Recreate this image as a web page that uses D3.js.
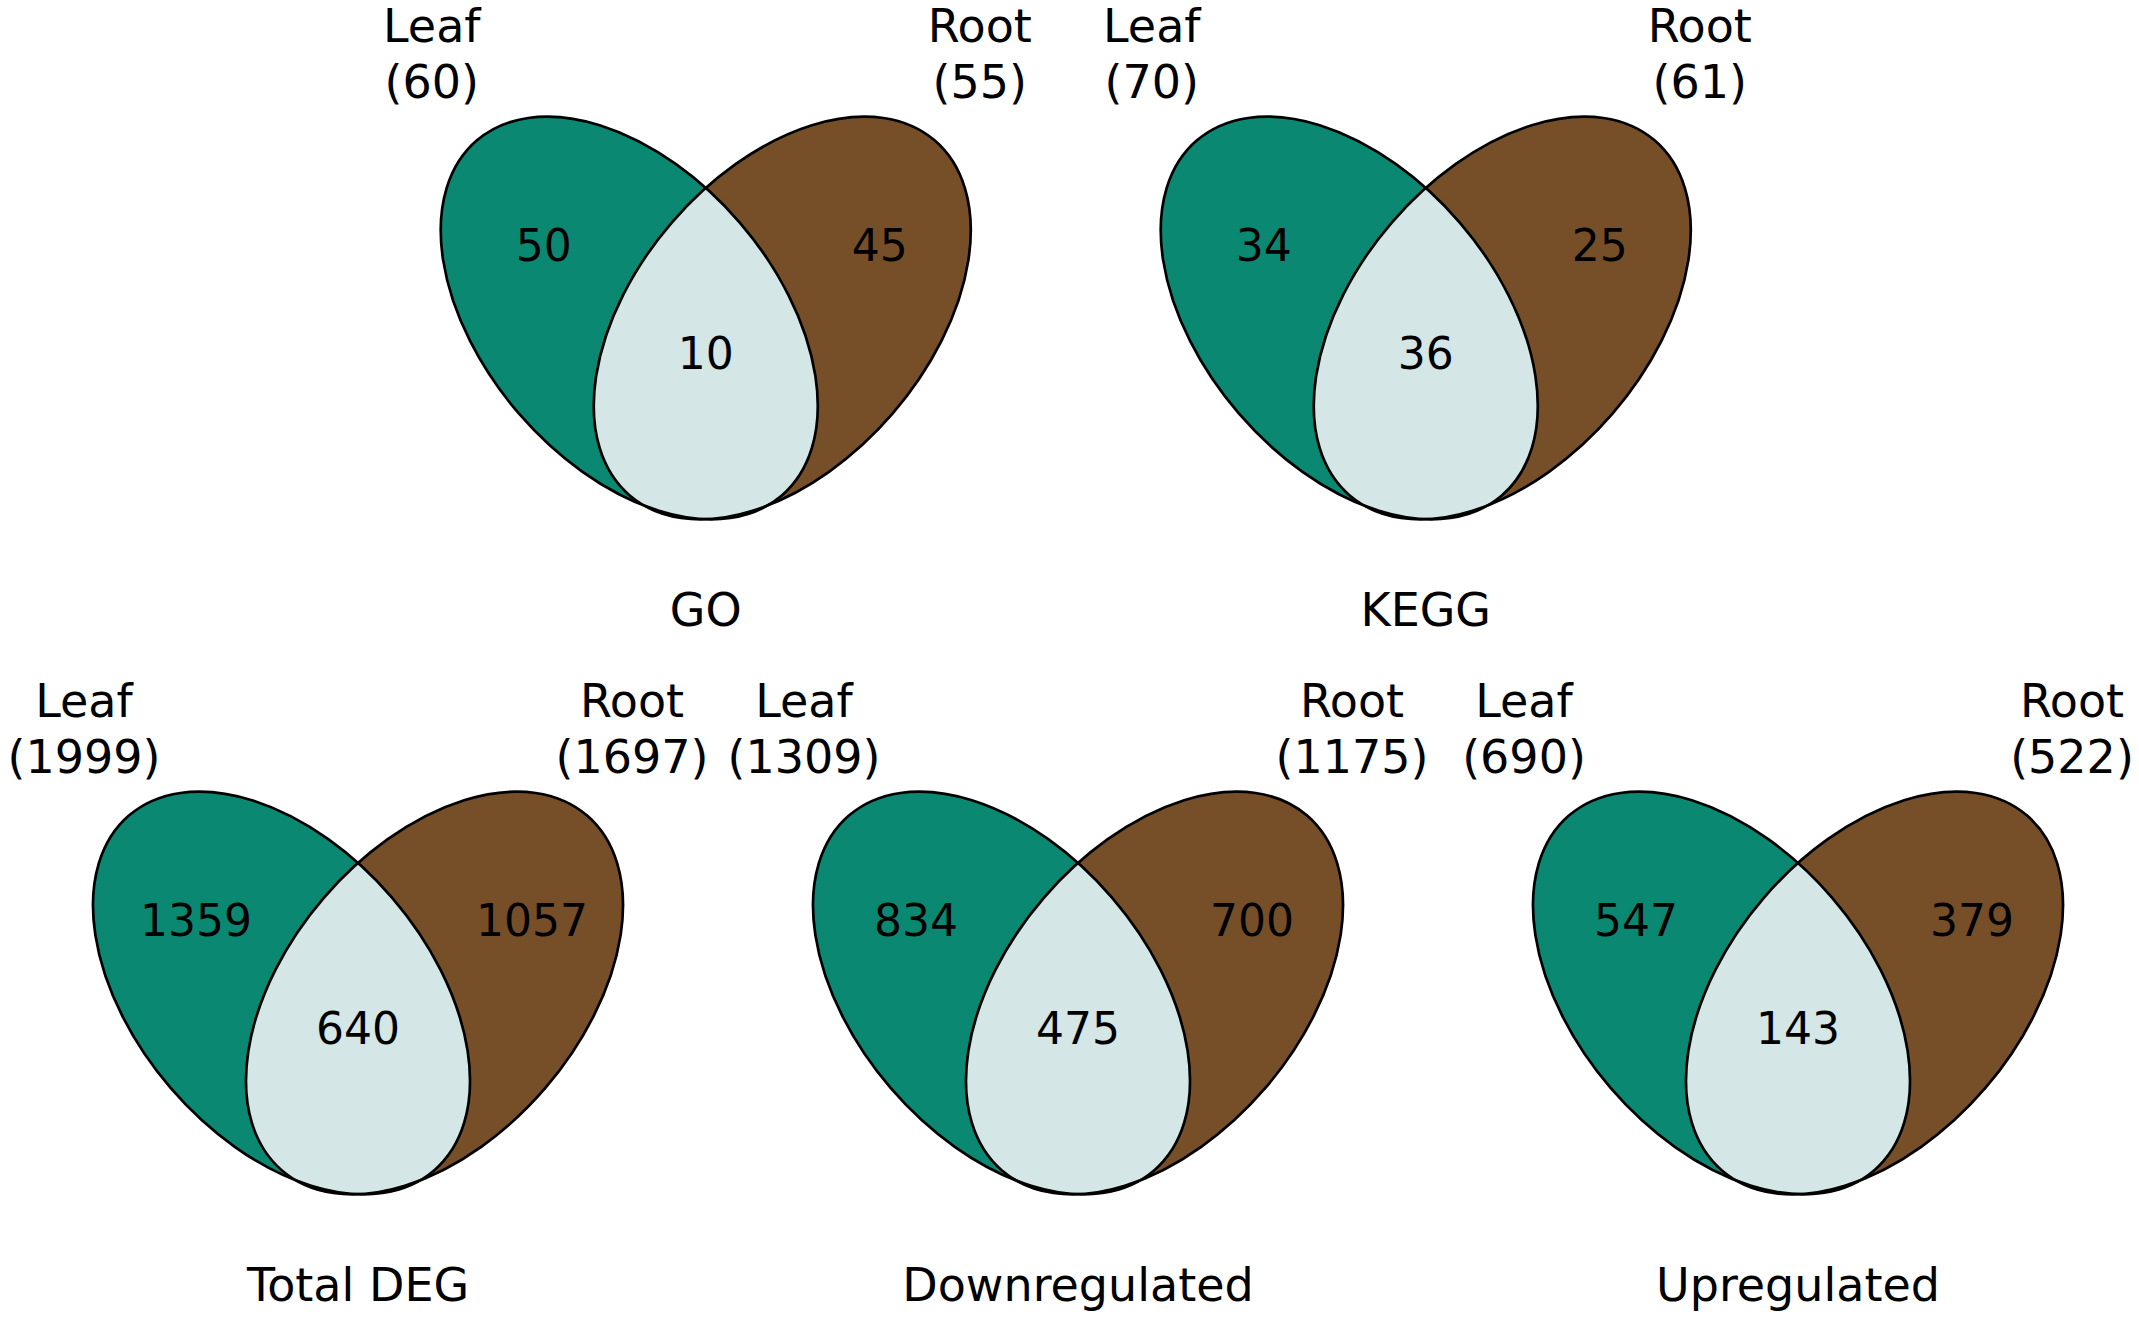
<!DOCTYPE html>
<html>
<head>
<meta charset="utf-8">
<script src="https://cdn.jsdelivr.net/npm/d3@7"></script>
<style>
    body { margin: 0; background: #fff; }
    text { font-family: "DejaVu Sans", Verdana, sans-serif; fill: #000; }
</style>
</head>
<body>
<div id="chart"></div>
<script>
// values
var panelNames = ["GO", "KEGG", "Total DEG", "Downregulated", "Upregulated"];
var setNames = ["Leaf", "Root"];
var leafTotal = [60, 70, 1999, 1309, 690];
var rootTotal = [55, 61, 1697, 1175, 522];
var leafOnly = [50, 34, 1359, 834, 547];
var rootOnly = [45, 25, 1057, 700, 379];
var shared = [10, 36, 640, 475, 143];

// where each diagram sits (column units, row index)
var panelCol = [0.483, 1.483, 0, 1, 2];
var panelRow = [0, 0, 1, 1, 1];

(function () {
    var width = 2139, height = 1318;
    var colors = { leaf: "#0a8871", root: "#764f28", both: "#d4e6e5" };

    var svg = d3.select("#chart")
        .append("svg")
        .attr("width", width)
        .attr("height", height)
        .attr("viewBox", `0 0 ${width} ${height}`);

    // column -> x of the top crossing point, row -> y of it
    var x = d3.scaleLinear().domain([0, 2]).range([358, 1798]);
    var y = d3.scaleLinear().domain([0, 1]).range([187, 862]);

    // ellipse shape, relative to the top crossing point
    var ell = { dx: 76.5, dy: 131, rx: 234, ry: 146, angle: 49.3 };

    panelNames.forEach(function (name, i) {
        var g = svg.append("g")
            .attr("transform", "translate(" + x(panelCol[i]) + "," + y(panelRow[i]) + ")");

        function ellipse(parent, side) {
            var cx = side * ell.dx;
            return parent.append("ellipse")
                .attr("cx", cx).attr("cy", ell.dy)
                .attr("rx", ell.rx).attr("ry", ell.ry)
                .attr("transform", `rotate(${-side * ell.angle} ${cx} ${ell.dy})`);
        }

        var clipId = "clip-leaf-" + i;
        ellipse(g.append("clipPath").attr("id", clipId), -1);

        ellipse(g, -1).attr("fill", colors.leaf);
        ellipse(g, 1).attr("fill", colors.root);
        // overlap: root ellipse seen through the leaf ellipse
        ellipse(g.append("g").attr("clip-path", "url(#" + clipId + ")"), 1)
            .attr("fill", colors.both);
        ellipse(g, -1).attr("fill", "none").attr("stroke", "#000").attr("stroke-width", 2.7);
        ellipse(g, 1).attr("fill", "none").attr("stroke", "#000").attr("stroke-width", 2.7);

        // region counts
        g.append("text").attr("x", -162).attr("y", 74)
            .attr("text-anchor", "middle").attr("font-size", 44).text(leafOnly[i]);
        g.append("text").attr("x", 174).attr("y", 74)
            .attr("text-anchor", "middle").attr("font-size", 44).text(rootOnly[i]);
        g.append("text").attr("x", 0).attr("y", 182)
            .attr("text-anchor", "middle").attr("font-size", 44).text(shared[i]);

        // set labels
        [[-274, setNames[0], leafTotal[i]], [274, setNames[1], rootTotal[i]]].forEach(function (d) {
            g.append("text").attr("x", d[0]).attr("y", -145)
                .attr("text-anchor", "middle").attr("font-size", 46).text(d[1]);
            g.append("text").attr("x", d[0]).attr("y", -89)
                .attr("text-anchor", "middle").attr("font-size", 46).text("(" + d[2] + ")");
        });

        // panel title
        g.append("text").attr("x", 0).attr("y", 439)
            .attr("text-anchor", "middle").attr("font-size", 46).text(name);
    });
})();
</script>
</body>
</html>
